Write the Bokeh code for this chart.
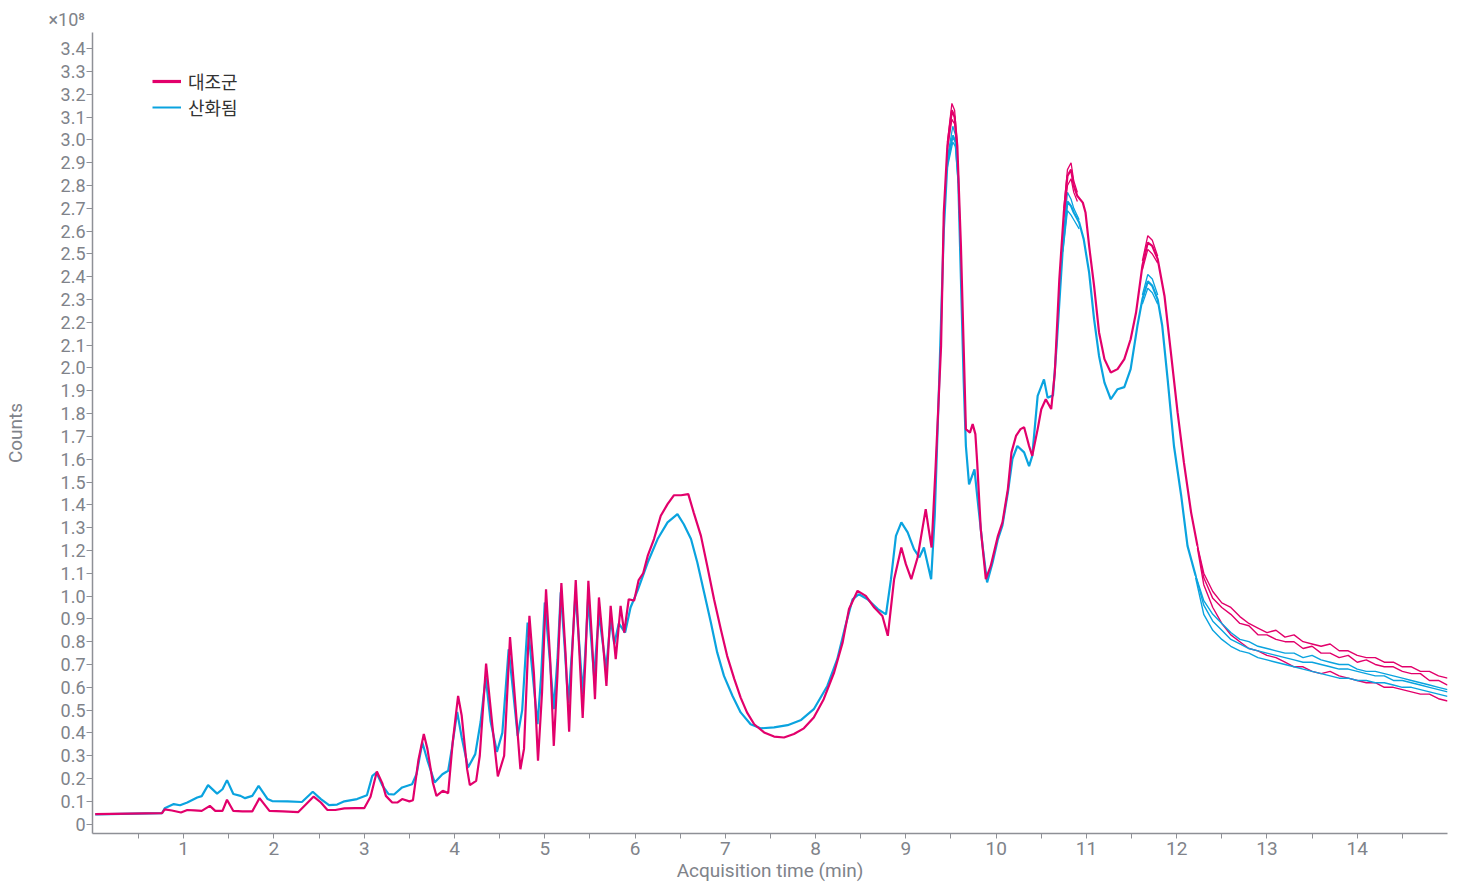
import numpy as np
from bokeh.plotting import figure
from bokeh.models import Range1d, FixedTicker, CustomJSTickFormatter, Title, Legend, LegendItem
from bokeh.embed import file_html
from bokeh.resources import INLINE

# ---------------- data (time in min, counts in millions) ----------------
control_main = [
    (0.02, 4.4), (0.76, 4.8), (0.79, 6.5), (0.87, 6.0), (0.97, 5.1), (1.04, 6.2), (1.12, 6.0),
    (1.20, 5.8), (1.29, 8.0), (1.35, 5.8), (1.43, 5.8), (1.48, 10.7), (1.55, 5.8), (1.65, 5.6),
    (1.76, 5.6), (1.84, 11.4), (1.95, 5.8), (2.10, 5.6), (2.27, 5.3), (2.35, 8.5), (2.44, 12.1),
    (2.52, 9.5), (2.59, 6.3), (2.68, 6.2), (2.78, 6.9), (2.90, 7.0), (3.00, 7.0), (3.07, 12.0),
    (3.14, 23.1), (3.20, 18.0), (3.24, 12.4), (3.31, 9.5), (3.37, 9.5), (3.42, 11.0), (3.50, 10.0),
    (3.54, 10.5), (3.60, 28.0), (3.66, 39.5), (3.70, 33.0), (3.76, 18.3), (3.80, 12.4), (3.87, 14.6),
    (3.93, 13.6), (3.98, 35.8), (4.04, 56.2), (4.08, 47.5), (4.14, 24.1), (4.17, 17.1), (4.24, 19.0),
    (4.28, 30.0), (4.35, 70.4), (4.42, 43.1), (4.48, 20.9), (4.55, 30.0), (4.615, 82.0), (4.66, 60.0),
    (4.73, 24.1), (4.77, 33.0), (4.83, 91.3), (4.88, 66.0), (4.925, 27.8), (4.97, 58.0), (5.014, 103.0),
    (5.06, 72.0), (5.10, 34.3), (5.14, 65.0), (5.184, 105.7), (5.23, 75.0), (5.27, 40.5), (5.30, 72.0),
    (5.343, 107.0), (5.38, 78.0), (5.42, 46.6), (5.45, 72.0), (5.483, 106.7), (5.52, 83.0), (5.556, 54.8),
    (5.60, 99.4), (5.64, 82.0), (5.683, 60.6), (5.73, 95.7), (5.786, 72.3), (5.84, 95.7), (5.88, 84.0),
    (5.93, 98.6), (5.99, 98.0), (6.04, 107.0), (6.09, 110.0), (6.14, 117.6), (6.21, 125.0),
    (6.285, 135.2), (6.36, 140.3), (6.43, 144.2), (6.51, 144.2), (6.59, 144.7), (6.65, 136.6),
    (6.73, 126.4), (6.80, 113.2), (6.875, 98.6), (6.95, 85.5), (7.02, 73.8), (7.10, 63.6), (7.17, 55.5),
    (7.24, 49.0), (7.32, 43.8), (7.43, 40.2), (7.54, 38.4), (7.65, 38.0), (7.76, 39.5), (7.87, 42.0),
    (7.98, 46.8), (8.09, 54.8), (8.205, 66.5), (8.30, 79.7), (8.37, 94.3), (8.465, 102.3),
    (8.556, 100.1), (8.65, 95.0), (8.74, 91.3), (8.80, 82.6), (8.87, 107.4), (8.95, 121.3), (9.00, 114.0),
    (9.06, 107.4), (9.13, 116.9), (9.17, 126.4), (9.22, 138.1), (9.25, 130.0), (9.285, 121.3),
    (9.33, 157.0), (9.39, 209.7), (9.42, 268.2), (9.46, 297.4), (9.51, 313.0), (9.54, 310.0),
    (9.57, 297.4), (9.61, 253.5), (9.64, 209.7), (9.665, 173.2), (9.71, 171.7), (9.74, 175.4),
    (9.77, 171.0), (9.79, 158.6), (9.83, 129.3), (9.886, 107.4), (9.94, 113.2), (10.02, 126.4),
    (10.07, 132.3), (10.13, 146.9), (10.17, 163.0), (10.22, 170.2), (10.27, 173.2), (10.31, 174.0),
    (10.365, 165.8), (10.40, 161.5), (10.46, 173.2), (10.50, 181.9), (10.55, 186.3), (10.61, 182.0),
    (10.65, 198.0), (10.70, 238.9), (10.75, 268.2), (10.79, 284.2), (10.83, 287.0), (10.86, 279.8),
    (10.90, 275.4), (10.96, 272.5), (10.99, 268.2), (11.03, 253.5), (11.085, 236.0), (11.14, 215.6),
    (11.20, 203.9), (11.27, 198.0), (11.345, 199.5), (11.42, 203.9), (11.49, 212.6), (11.55, 224.3),
    (11.62, 244.8), (11.68, 255.0), (11.73, 253.5), (11.79, 247.7), (11.865, 231.6), (11.94, 205.3),
    (12.01, 180.5), (12.08, 158.6), (12.16, 136.6), (12.23, 122.0),
]

oxidized_main = [
    (0.02, 4.3), (0.76, 4.8), (0.79, 7.0), (0.89, 8.8), (0.96, 8.3), (1.04, 9.5), (1.15, 11.7),
    (1.20, 12.3), (1.27, 17.1), (1.37, 13.4), (1.43, 15.3), (1.48, 19.3), (1.55, 13.2), (1.63, 12.4),
    (1.68, 11.4), (1.76, 12.4), (1.83, 16.8), (1.93, 11.0), (1.98, 10.1), (2.15, 10.0), (2.31, 9.7),
    (2.43, 14.2), (2.52, 11.0), (2.61, 8.3), (2.70, 8.6), (2.78, 10.0), (2.92, 11.0), (3.03, 12.7),
    (3.09, 21.2), (3.135, 22.6), (3.20, 17.0), (3.27, 13.2), (3.33, 13.0), (3.42, 16.1), (3.53, 17.5),
    (3.58, 22.0), (3.644, 35.8), (3.70, 28.0), (3.78, 18.3), (3.866, 21.9), (3.93, 23.4), (3.97, 33.0),
    (4.03, 49.2), (4.08, 38.0), (4.15, 24.8), (4.23, 30.7), (4.29, 45.0), (4.346, 64.3), (4.40, 45.0),
    (4.47, 31.7), (4.53, 40.0), (4.60, 76.7), (4.65, 58.0), (4.70, 38.7), (4.75, 50.0), (4.81, 88.4),
    (4.86, 68.0), (4.92, 43.8), (4.96, 65.0), (5.00, 97.2), (5.05, 75.0), (5.10, 50.4), (5.14, 72.0),
    (5.177, 101.6), (5.22, 78.0), (5.26, 53.0), (5.30, 75.0), (5.34, 101.0), (5.38, 80.0), (5.42, 57.0),
    (5.45, 76.0), (5.48, 99.0), (5.51, 83.0), (5.546, 65.0), (5.60, 92.0), (5.64, 80.0), (5.68, 68.0),
    (5.73, 90.0), (5.77, 79.0), (5.82, 88.0), (5.89, 84.0), (5.95, 95.0), (6.03, 102.6), (6.14, 114.7),
    (6.25, 125.0), (6.36, 132.3), (6.47, 135.9), (6.54, 131.5), (6.62, 125.0), (6.69, 114.7),
    (6.765, 101.6), (6.84, 88.4), (6.91, 75.3), (6.985, 65.0), (7.08, 56.2), (7.17, 49.0), (7.28, 43.8),
    (7.39, 42.0), (7.54, 42.4), (7.69, 43.4), (7.84, 45.7), (7.98, 50.4), (8.13, 60.6), (8.24, 72.3),
    (8.33, 86.9), (8.41, 98.6), (8.48, 100.8), (8.575, 98.6), (8.69, 94.3), (8.78, 92.0), (8.835, 107.4),
    (8.89, 126.4), (8.95, 132.3), (9.02, 127.9), (9.09, 120.6), (9.15, 117.0), (9.20, 121.3),
    (9.28, 107.4), (9.32, 135.2), (9.37, 195.0), (9.42, 260.0), (9.46, 290.0), (9.52, 302.0),
    (9.55, 299.0), (9.58, 283.0), (9.61, 239.0), (9.64, 195.0), (9.665, 165.8), (9.70, 149.0),
    (9.76, 155.6), (9.79, 144.0), (9.85, 122.0), (9.90, 106.0), (9.96, 114.6), (10.02, 125.0),
    (10.07, 131.0), (10.13, 145.4), (10.18, 160.0), (10.235, 165.8), (10.31, 163.0), (10.365, 157.0),
    (10.40, 161.5), (10.46, 187.8), (10.53, 195.0), (10.57, 187.0), (10.63, 188.0), (10.67, 209.7),
    (10.74, 253.5), (10.79, 273.0), (10.83, 271.0), (10.86, 268.2), (10.92, 263.8), (10.97, 256.5),
    (11.03, 241.9), (11.085, 221.4), (11.14, 205.3), (11.20, 193.6), (11.27, 186.3), (11.345, 190.7),
    (11.42, 191.6), (11.49, 199.5), (11.565, 218.5), (11.62, 230.2), (11.68, 238.0), (11.73, 236.0),
    (11.79, 230.0), (11.84, 218.5), (11.90, 195.0), (11.97, 165.8), (12.05, 144.0), (12.12, 122.0),
    (12.21, 108.9),
]

# replicate tails (they separate after ~12.2 min)
control_tail_t = [12.23, 12.3, 12.4, 12.5, 12.6, 12.7, 12.8, 12.9, 13.0, 13.1, 13.2, 13.3, 13.4, 13.5,
                  13.6, 13.7, 13.8, 13.9, 14.0, 14.1, 14.2, 14.3, 14.4, 14.5, 14.6, 14.7, 14.8, 14.9, 15.0]
control_tail_1 = [122, 110, 102, 97, 95, 91, 88, 86, 84, 85, 82, 83, 80, 79, 78, 79, 76, 76, 74, 73,
                  73, 71, 71, 69, 69, 67, 67, 65, 64]
control_tail_2 = [122, 108, 99, 95, 92, 88, 87, 83, 83, 81, 80, 80, 77, 78, 75, 75, 73, 74, 71, 72,
                  70, 69, 69, 67, 66, 66, 63, 63, 61]
control_tail_3 = [121, 105, 95, 88, 83, 80, 77, 76, 74, 73, 71, 69, 69, 67, 66, 67, 65, 64, 63, 62,
                  62, 60, 60, 59, 58, 57, 57, 55, 54]
oxidized_tail_t = [12.21, 12.3, 12.4, 12.5, 12.6, 12.7, 12.8, 12.9, 13.0, 13.1, 13.2, 13.3, 13.4, 13.5,
                   13.6, 13.7, 13.8, 13.9, 14.0, 14.1, 14.2, 14.3, 14.4, 14.5, 14.6, 14.7, 14.8, 14.9, 15.0]
oxidized_tail_1 = [109, 98, 92, 88, 84, 81, 80, 78, 77, 76, 75, 75, 73, 74, 72, 71, 70, 70, 68, 67,
                   67, 66, 65, 64, 63, 62, 61, 60, 59]
oxidized_tail_2 = [109, 96, 89, 85, 81, 79, 77, 76, 75, 74, 73, 72, 71, 71, 70, 69, 68, 68, 67, 66,
                   65, 65, 63, 63, 62, 61, 60, 59, 58]
oxidized_tail_3 = [108, 92, 85, 81, 78, 76, 75, 73, 72, 71, 70, 69, 68, 67, 66, 65, 64, 64, 63, 63,
                   62, 62, 61, 60, 60, 59, 58, 57, 56]

# replicate spread at the three large peaks
control_peak_t = [[9.46, 9.51, 9.54, 9.57], [10.75, 10.79, 10.83, 10.86, 10.90], [11.62, 11.68, 11.73, 11.79]]
control_peak_a = [[299, 316, 313, 298], [270, 287, 290, 282, 277], [247, 258, 256, 249]]
control_peak_b = [[296, 309, 307, 296], [266, 280, 283, 277, 273], [243, 252, 250, 246]]
oxidized_peak_t = [[9.46, 9.52, 9.55, 9.58], [10.74, 10.79, 10.83, 10.86, 10.92], [11.62, 11.68, 11.73, 11.79]]
oxidized_peak_a = [[292, 306, 302, 285], [256, 277, 274, 270, 265], [232, 241, 239, 232]]
oxidized_peak_b = [[288, 299, 297, 281], [251, 269, 267, 265, 261], [228, 235, 233, 228]]

x_tick_values = [0.5 * i for i in range(1, 30)]
y_tick_values = [i / 10 for i in range(35)]
series_labels = ["대조군", "산화됨"]

PINK = "#e2006b"
BLUE = "#0aa3df"
GREY = "#80838a"
AXIS = "#8e9096"

def e8(vals):
    return np.asarray(vals, dtype=float) / 100.0  # millions -> x10^8

p = figure(width=1449, height=884, output_backend="svg", toolbar_location=None,
           x_range=Range1d(-0.01, 15.0), y_range=Range1d(-0.041, 3.471),
           min_border_left=92, min_border_right=2, min_border_top=32, min_border_bottom=51)
p.outline_line_color = None
p.grid.visible = False
p.background_fill_color = "white"

# oxidized (blue) first, control (pink) on top
ot, ov = zip(*oxidized_main)
p.line(list(ot), e8(ov), line_color=BLUE, line_width=2.2)
for tt, a, b in zip(oxidized_peak_t, oxidized_peak_a, oxidized_peak_b):
    p.line(tt, e8(a), line_color=BLUE, line_width=1.3)
    p.line(tt, e8(b), line_color=BLUE, line_width=1.3)

ct, cv = zip(*control_main)
p.line(list(ct), e8(cv), line_color=PINK, line_width=2.2)
for tt, a, b in zip(control_peak_t, control_peak_a, control_peak_b):
    p.line(tt, e8(a), line_color=PINK, line_width=1.3)
    p.line(tt, e8(b), line_color=PINK, line_width=1.3)

for tail in (control_tail_1, control_tail_2, control_tail_3):
    p.line(control_tail_t, e8(tail), line_color=PINK, line_width=1.4)
for tail in (oxidized_tail_1, oxidized_tail_2, oxidized_tail_3):
    p.line(oxidized_tail_t, e8(tail), line_color=BLUE, line_width=1.4)

# legend-only renderers (placed outside the visible range)
leg_pink = p.line([-5, -4], [-5, -5], line_color=PINK, line_width=3.2)
leg_blue = p.line([-5, -4], [-5, -5], line_color=BLUE, line_width=2)
legend = Legend(items=[LegendItem(label=series_labels[0], renderers=[leg_pink]),
                       LegendItem(label=series_labels[1], renderers=[leg_blue])],
                location=(60, 713), padding=0, margin=0, spacing=0,
                glyph_width=29, glyph_height=20, label_height=20, label_standoff=7,
                label_text_font="Noto Sans CJK KR", label_text_font_size="18px",
                label_text_color="#333333", border_line_color=None, background_fill_alpha=0)
p.add_layout(legend)

# axes
xa = p.xaxis[0]
xa.ticker = FixedTicker(ticks=x_tick_values)
xa.formatter = CustomJSTickFormatter(code="return Number.isInteger(tick) ? tick.toString() : '';")
xa.axis_label = "Acquisition time (min)"
xa.major_tick_out = 5
xa.major_tick_in = 0
xa.minor_tick_out = 0
xa.major_label_standoff = 3
xa.axis_label_standoff = 1
xa.major_label_text_font = "Roboto"
xa.major_label_text_font_size = "19px"
xa.major_label_text_color = GREY
xa.axis_label_text_font = "Roboto"
xa.axis_label_text_font_size = "19px"
xa.axis_label_text_font_style = "normal"
xa.axis_label_text_color = GREY
xa.axis_line_color = AXIS
xa.major_tick_line_color = AXIS
xa.axis_line_width = 1.5

ya = p.yaxis[0]
ya.ticker = FixedTicker(ticks=y_tick_values)
ya.formatter = CustomJSTickFormatter(code="return tick === 0 ? '0' : tick.toFixed(1);")
ya.axis_label = "Counts"
ya.major_tick_out = 6
ya.major_tick_in = 0
ya.minor_tick_out = 0
ya.major_label_standoff = 1
ya.axis_label_standoff = 31
ya.major_label_text_font = "Roboto"
ya.major_label_text_font_size = "18px"
ya.major_label_text_color = GREY
ya.axis_label_text_font = "Roboto"
ya.axis_label_text_font_size = "19px"
ya.axis_label_text_font_style = "normal"
ya.axis_label_text_color = GREY
ya.axis_line_color = AXIS
ya.major_tick_line_color = AXIS
ya.axis_line_width = 1.5

p.add_layout(Title(text="×10⁸", align="left", offset=-44, standoff=5,
                   text_font="Roboto", text_font_size="18px", text_font_style="normal",
                   text_color=GREY), "above")

open("out.html", "w").write(file_html(p, INLINE))
